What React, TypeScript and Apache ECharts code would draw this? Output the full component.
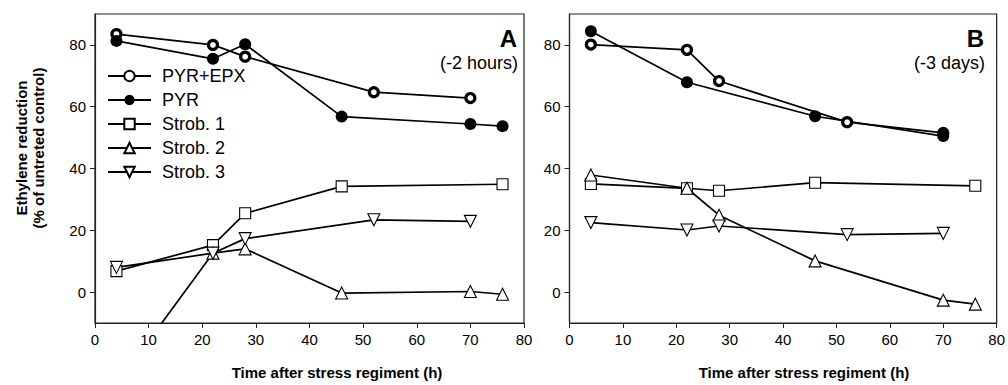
import React, { useEffect, useRef } from "react";
import * as echarts from "echarts";

// ---- Data (time in h, value in % of untreated control) ----
const xTicks = [0, 10, 20, 30, 40, 50, 60, 70, 80];
const yTicks = [0, 20, 40, 60, 80];
const seriesNames = ["PYR+EPX", "PYR", "Strob. 1", "Strob. 2", "Strob. 3"];

// Panel A (-2 hours)
const aPyrEpxT = [4, 22, 28, 52, 70];
const aPyrEpxV = [83.5, 80.0, 76.2, 64.7, 62.8];
const aPyrT = [4, 22, 28, 46, 70, 76];
const aPyrV = [81.3, 75.5, 80.2, 56.8, 54.4, 53.7];
const aS1T = [4, 22, 28, 46, 76];
const aS1V = [6.8, 15.2, 25.5, 34.2, 34.9];
const aS2T = [4, 22, 28, 46, 70, 76];
const aS2V = [-30, 12.6, 14.0, -0.3, 0.2, -0.7];
const aS3T = [4, 22, 28, 52, 70];
const aS3V = [8.0, 12.6, 17.3, 23.4, 22.9];

// Panel B (-3 days)
const bPyrEpxT = [4, 22, 28, 52, 70];
const bPyrEpxV = [80.1, 78.4, 68.3, 55.0, 51.5];
const bPyrT = [4, 22, 46, 70];
const bPyrV = [84.4, 67.9, 56.9, 50.5];
const bS1T = [4, 22, 28, 46, 76];
const bS1V = [35.0, 33.6, 32.8, 35.4, 34.4];
const bS2T = [4, 22, 28, 46, 70, 76];
const bS2V = [37.9, 33.6, 24.9, 10.1, -2.6, -3.9];
const bS3T = [4, 22, 28, 52, 70];
const bS3V = [22.5, 20.1, 21.4, 18.6, 19.0];

const FONT = 'Arial, "Liberation Sans", Helvetica, sans-serif';

const pts = (t: number[], v: number[]) => t.map((x, i) => [x, v[i]]);

function makeSeries(name: string, data: number[][], idx: number) {
  const base: any = {
    type: "line",
    name,
    data,
    xAxisIndex: idx,
    yAxisIndex: idx,
    clip: true,
    lineStyle: { color: "#000", width: 1.7 },
    emphasis: { disabled: true },
  };
  if (name === "PYR+EPX") {
    base.symbol = "circle";
    base.symbolSize = 9;
    base.itemStyle = { color: "#fff", borderColor: "#000", borderWidth: 3.2 };
  } else if (name === "PYR") {
    base.symbol = "circle";
    base.symbolSize = 12;
    base.itemStyle = { color: "#000", borderColor: "#000", borderWidth: 0 };
  } else if (name === "Strob. 1") {
    base.symbol = "rect";
    base.symbolSize = 11;
    base.itemStyle = { color: "#fff", borderColor: "#000", borderWidth: 1.1 };
  } else if (name === "Strob. 2") {
    base.symbol = "triangle";
    base.symbolSize = 12;
    base.itemStyle = { color: "#fff", borderColor: "#000", borderWidth: 1.1 };
  } else {
    base.symbol = "triangle";
    base.symbolRotate = 180;
    base.symbolSize = 12;
    base.itemStyle = { color: "#fff", borderColor: "#000", borderWidth: 1.1 };
  }
  return base;
}

export default function App() {
  const ref = useRef<HTMLDivElement>(null);

  useEffect(() => {
    if (!ref.current) return;
    const chart = echarts.init(ref.current, undefined, { renderer: "svg" });

    const gridCommon = {
      top: 14,
      height: 309,
      width: 429,
      show: true,
      borderColor: "#222",
      borderWidth: 1.2,
      backgroundColor: "transparent",
    };

    const xAxisCommon = (gridIndex: number) => ({
      type: "value",
      gridIndex,
      min: xTicks[0],
      max: xTicks[xTicks.length - 1],
      interval: 10,
      axisLine: { show: true, onZero: false, lineStyle: { color: "#222", width: 1.2 } },
      axisTick: { show: true, inside: false, length: 5, lineStyle: { color: "#222", width: 1 } },
      axisLabel: { color: "#000", fontSize: 15, fontFamily: FONT, margin: 9 },
      splitLine: { show: false },
    });

    const yAxisCommon = (gridIndex: number) => ({
      type: "value",
      gridIndex,
      min: -10,
      max: 90,
      axisLine: { show: true, onZero: false, lineStyle: { color: "#222", width: 1.2 } },
      axisTick: {
        show: true,
        inside: false,
        length: 5,
        customValues: yTicks,
        lineStyle: { color: "#222", width: 1 },
      },
      axisLabel: {
        color: "#000",
        fontSize: 15,
        fontFamily: FONT,
        margin: 9,
        customValues: yTicks,
      },
      splitLine: { show: false },
    });

    const aData = [
      pts(aPyrEpxT, aPyrEpxV),
      pts(aPyrT, aPyrV),
      pts(aS1T, aS1V),
      pts(aS2T, aS2V),
      pts(aS3T, aS3V),
    ];
    const bData = [
      pts(bPyrEpxT, bPyrEpxV),
      pts(bPyrT, bPyrV),
      pts(bS1T, bS1V),
      pts(bS2T, bS2V),
      pts(bS3T, bS3V),
    ];

    const series: any[] = [];
    seriesNames.forEach((n, i) => series.push(makeSeries(n, aData[i], 0)));
    seriesNames.forEach((n, i) => series.push(makeSeries(n, bData[i], 1)));

    const txt = (text: string, x: number, y: number, size: number, bold: boolean, align = "center", rotation = 0, lineHeight?: number) => ({
      type: "text",
      x,
      y,
      rotation,
      style: {
        text,
        fill: "#000",
        fontSize: size,
        fontWeight: bold ? "bold" : "normal",
        fontFamily: FONT,
        textAlign: align,
        textVerticalAlign: "middle",
        lineHeight: lineHeight || size * 1.15,
      },
      silent: true,
    });

    chart.setOption({
      animation: false,
      backgroundColor: "#fff",
      grid: [
        { ...gridCommon, left: 95 },
        { ...gridCommon, left: 569.5 },
      ],
      xAxis: [xAxisCommon(0), xAxisCommon(1)],
      yAxis: [yAxisCommon(0), yAxisCommon(1)],
      legend: {
        data: seriesNames,
        orient: "vertical",
        left: 107,
        top: 67,
        itemWidth: 43,
        itemHeight: 13,
        itemGap: 6,
        padding: 0,
        selectedMode: false,
        textStyle: { color: "#000", fontSize: 18, fontFamily: FONT, padding: [0, 0, 0, 6] },
      },
      series,
      graphic: [
        txt("A", 517, 38.5, 24, true, "right"),
        txt("(-2 hours)", 518, 62.5, 18, false, "right"),
        txt("B", 984, 38.5, 24, true, "right"),
        txt("(-3 days)", 985, 62.5, 18, false, "right"),
        txt("Time after stress regiment (h)", 337, 372, 15, true, "center"),
        txt("Time after stress regiment (h)", 804, 372, 15, true, "center"),
        txt("Ethylene reduction\n(% of untreted control)", 30, 148, 15, true, "center", Math.PI / 2, 17),
      ],
    });

    return () => chart.dispose();
  }, []);

  return (
    <div
      ref={ref}
      style={{ position: "fixed", left: 0, top: 0, width: 1008, height: 385, background: "#fff" }}
    />
  );
}
